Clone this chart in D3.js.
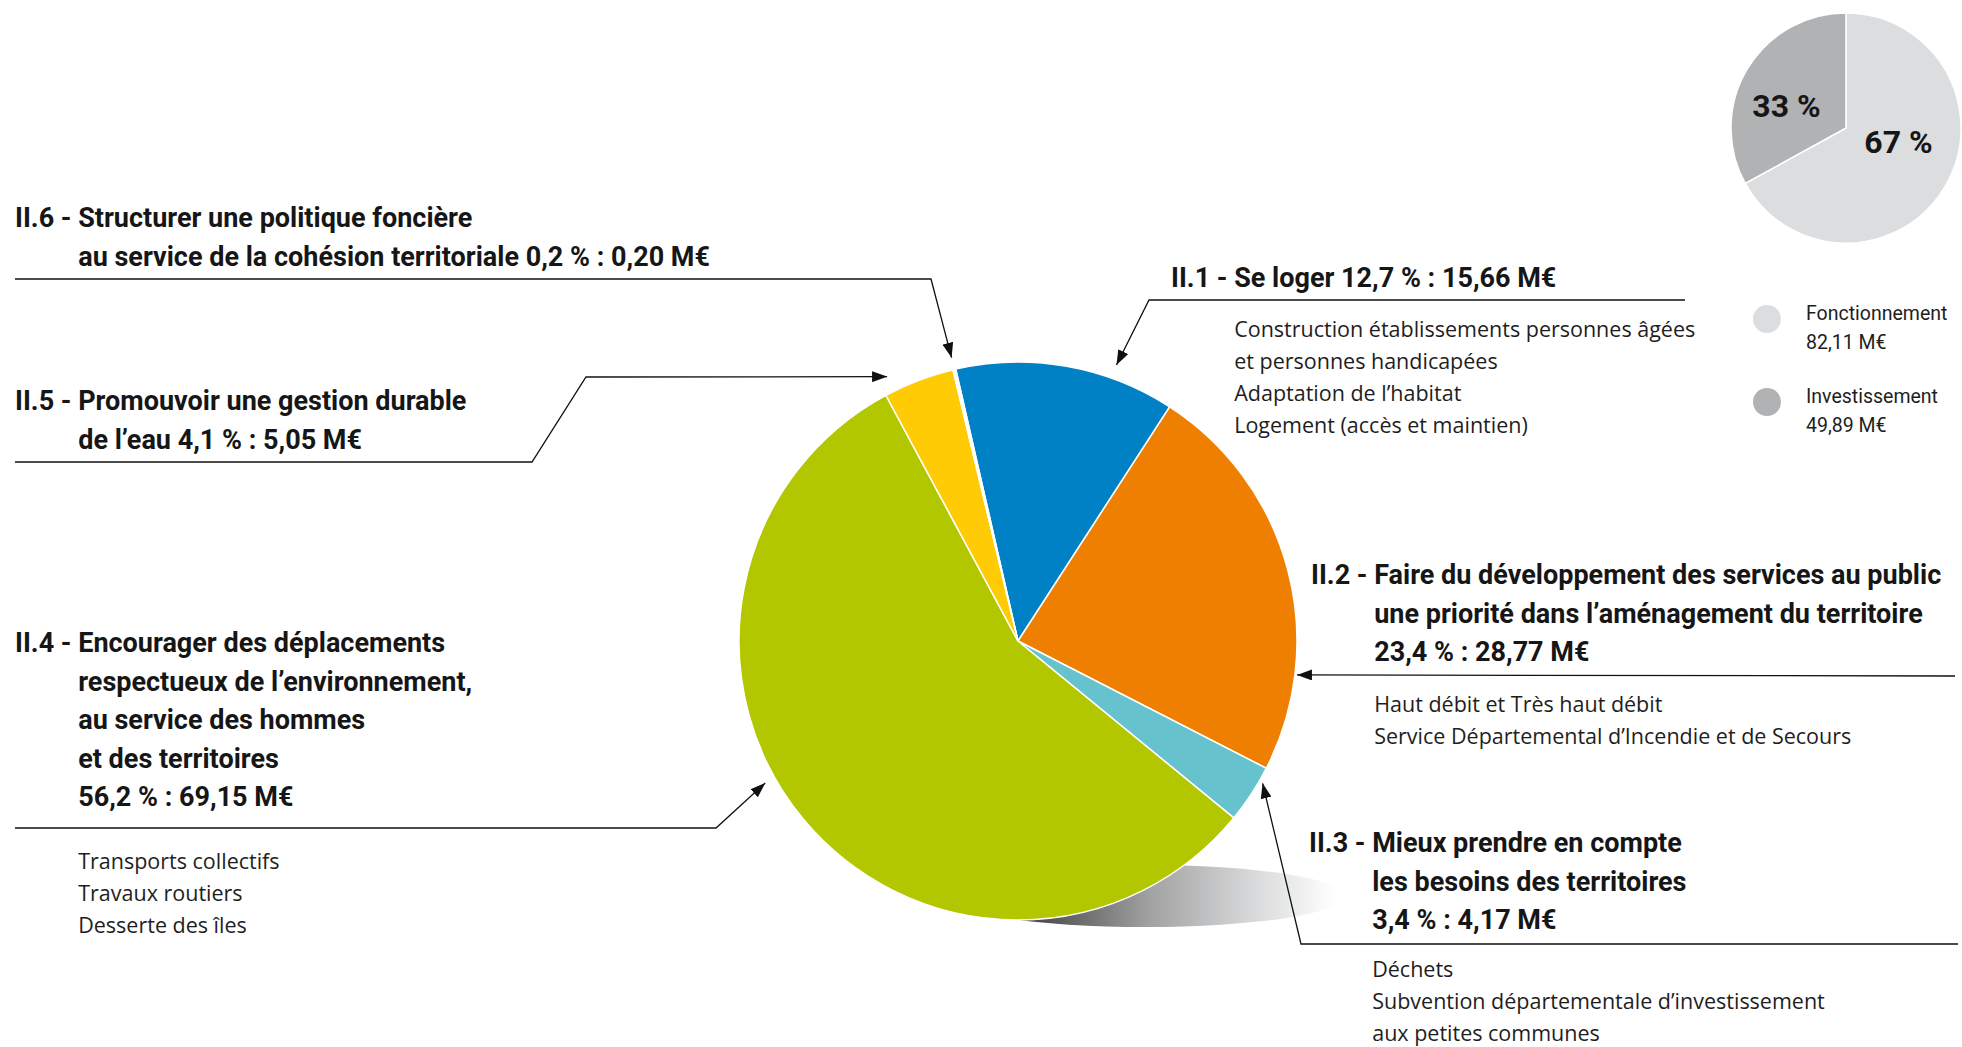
<!DOCTYPE html>
<html>
<head>
<meta charset="utf-8">
<script src="https://cdn.jsdelivr.net/npm/d3@7"></script>
<style>
  html, body { margin: 0; padding: 0; background: #fff; }
  svg { display: block; }
  .bold { font-family: Roboto, "Liberation Sans", sans-serif; font-weight: 700; fill: #161616; }
  .reg { font-family: "Open Sans", "Noto Sans", sans-serif; font-weight: 400; fill: #1e1e1e; }
  .legend { font-family: Roboto, "Liberation Sans", sans-serif; font-weight: 400; fill: #1e1e1e; }
</style>
</head>
<body>
<div id="chart"></div>
<script>
// --- data ---
const categories = ['II.1', 'II.2', 'II.3', 'II.4', 'II.5', 'II.6'];
const shares = [12.7, 23.4, 3.4, 56.2, 4.1, 0.2];
const amounts = [15.66, 28.77, 4.17, 69.15, 5.05, 0.20];
const sliceColors = ['#0080c5', '#ef7f00', '#66c2cd', '#b2c700', '#ffcb04', '#ffffff'];
const titles = [
  ['Se loger'],
  ['Faire du développement des services au public', 'une priorité dans l’aménagement du territoire'],
  ['Mieux prendre en compte', 'les besoins des territoires'],
  ['Encourager des déplacements', 'respectueux de l’environnement,', 'au service des hommes', 'et des territoires'],
  ['Promouvoir une gestion durable', 'de l’eau'],
  ['Structurer une politique foncière', 'au service de la cohésion territoriale']
];
const details = [
  ['Construction établissements personnes âgées', 'et personnes handicapées', 'Adaptation de l’habitat', 'Logement (accès et maintien)'],
  ['Haut débit et Très haut débit', 'Service Départemental d’Incendie et de Secours'],
  ['Déchets', 'Subvention départementale d’investissement', 'aux petites communes'],
  ['Transports collectifs', 'Travaux routiers', 'Desserte des îles'],
  [],
  []
];

const splitLabels = ['Fonctionnement', 'Investissement'];
const splitAmounts = [82.11, 49.89];
const splitShares = [67, 33];
const splitColors = ['#dcdddf', '#b1b2b4'];

// --- layout ---
const width = 1962;
const height = 1047;
const cx = 1018, cy = 641, R = 279;
const startDeg = -12.9;
const titleSize = 27;
const titleLine = 38.5;
const detailLine = 32;

// label placement: text origin, value on same line or not, arrow target inside slice (t) and distance from rim
const layout = {
  'II.1': { x: 1171, y: 287, inline: true, dy: 337, t: 0.71, off: 14, path: [[1685, 300], [1149, 300]] },
  'II.2': { x: 1311, y: 584, inline: false, dy: 712, t: 0.76, off: 2, path: [[1955, 676]] },
  'II.3': { x: 1309, y: 852, inline: false, dy: 977, t: 0.25, off: 4, path: [[1958, 944], [1301, 944]] },
  'II.4': { x: 15, y: 652, inline: false, dy: 869, t: 0.55, off: 11, path: [[15, 828], [716, 828]] },
  'II.5': { x: 15, y: 410, inline: true, dy: 0, t: 0.13, off: 16, path: [[15, 462], [532, 462], [586, 377]] },
  'II.6': { x: 15, y: 227, inline: true, dy: 0, t: 0.5, off: 12, path: [[15, 279], [931, 279]] }
};

const fr = d3.formatLocale({ decimal: ',', thousands: ' ', grouping: [3], currency: ['', ' M€'] });
const f1 = fr.format('.1f');
const f2 = fr.format('.2f');

const svg = d3.select('#chart')
  .append('svg')
  .attr('width', width)
  .attr('height', height);

const defs = svg.append('defs');

defs.append('marker')
  .attr('id', 'arrow')
  .attr('viewBox', '0 0 15 11')
  .attr('refX', 15)
  .attr('refY', 5.5)
  .attr('markerWidth', 15)
  .attr('markerHeight', 11)
  .attr('markerUnits', 'userSpaceOnUse')
  .attr('orient', 'auto')
  .append('path')
  .attr('d', 'M0,0 L15,5.5 L0,11 Z')
  .attr('fill', '#111');

const grad = defs.append('linearGradient')
  .attr('id', 'shadow')
  .attr('gradientUnits', 'userSpaceOnUse')
  .attr('x1', 1030).attr('x2', 1335)
  .attr('y1', 0).attr('y2', 0);
[[0, '#454545'], [0.4, '#a3a3a4'], [0.72, '#d6d7d8'], [1, '#ffffff']].forEach(s => {
  grad.append('stop').attr('offset', s[0]).attr('stop-color', s[1]);
});

// shadow under the pie
svg.append('ellipse')
  .attr('cx', 1145)
  .attr('cy', 896)
  .attr('rx', 200)
  .attr('ry', 31)
  .attr('fill', 'url(#shadow)');

// main pie
const data = categories.map((c, i) => ({ cat: c, share: shares[i], amount: amounts[i], color: sliceColors[i] }));
const toRad = d => d * Math.PI / 180;

const pie = d3.pie()
  .sort(null)
  .value(d => d.amount)
  .startAngle(toRad(startDeg))
  .endAngle(toRad(startDeg + 360));

const arc = d3.arc().innerRadius(0).outerRadius(R);
const arcs = pie(data);

const pieG = svg.append('g').attr('transform', `translate(${cx},${cy})`);
pieG.selectAll('path')
  .data(arcs)
  .enter()
  .append('path')
  .attr('d', arc)
  .attr('fill', d => d.data.color)
  .attr('stroke', '#fff')
  .attr('stroke-width', 1.5);

// leader lines
const line = d3.line();
arcs.forEach(a => {
  const L = layout[a.data.cat];
  const ang = a.startAngle + L.t * (a.endAngle - a.startAngle);
  const rr = R + L.off;
  const tip = [cx + rr * Math.sin(ang), cy - rr * Math.cos(ang)];
  svg.append('path')
    .attr('d', line(L.path.concat([tip])))
    .attr('fill', 'none')
    .attr('stroke', '#111')
    .attr('stroke-width', 1.3)
    .attr('marker-end', 'url(#arrow)');
});

// labels
arcs.forEach((a, i) => {
  const L = layout[a.data.cat];
  const value = `${f1(a.data.share)} % : ${f2(a.data.amount)} M€`;
  const lines = titles[i].slice();
  if (L.inline) lines[lines.length - 1] += ' ' + value;
  else lines.push(value);

  const g = svg.append('g');
  const first = g.append('text')
    .attr('class', 'bold')
    .attr('x', L.x)
    .attr('y', L.y)
    .style('font-size', titleSize + 'px');
  const prefix = first.append('tspan').text(`${a.data.cat} - `);
  first.append('tspan').text(lines[0]);
  const indent = L.x + prefix.node().getComputedTextLength();

  lines.slice(1).forEach((t, j) => {
    g.append('text')
      .attr('class', 'bold')
      .attr('x', indent)
      .attr('y', L.y + (j + 1) * titleLine)
      .style('font-size', titleSize + 'px')
      .text(t);
  });

  details[i].forEach((t, j) => {
    g.append('text')
      .attr('class', 'reg')
      .attr('x', indent)
      .attr('y', L.dy + j * detailLine)
      .style('font-size', '21.5px')
      .text(t);
  });
});

// small pie: fonctionnement / investissement
const sx = 1846, sy = 128, sr = 115;
const splitData = splitLabels.map((l, i) => ({ label: l, share: splitShares[i], amount: splitAmounts[i], color: splitColors[i] }));
const smallPie = d3.pie().sort(null).value(d => d.share);
const smallArc = d3.arc().innerRadius(0).outerRadius(sr);
const smallG = svg.append('g').attr('transform', `translate(${sx},${sy})`);
const smallArcs = smallPie(splitData);

smallG.selectAll('path')
  .data(smallArcs)
  .enter()
  .append('path')
  .attr('d', smallArc)
  .attr('fill', d => d.data.color)
  .attr('stroke', '#fff')
  .attr('stroke-width', 1.5);

const pctOffsets = [[52.5, 25], [-59.5, -11.3]];
smallG.selectAll('text')
  .data(smallArcs)
  .enter()
  .append('text')
  .attr('class', 'bold')
  .attr('x', (d, i) => pctOffsets[i][0])
  .attr('y', (d, i) => pctOffsets[i][1])
  .attr('text-anchor', 'middle')
  .style('font-size', '32px')
  .text(d => `${d.data.share} %`);

// legend
const legend = svg.append('g');
splitData.forEach((d, i) => {
  const y = 319 + i * 83;
  legend.append('circle')
    .attr('cx', 1767)
    .attr('cy', y)
    .attr('r', 14)
    .attr('fill', d.color);
  legend.append('text')
    .attr('class', 'legend')
    .attr('x', 1806)
    .attr('y', y + 1)
    .style('font-size', '19.5px')
    .text(d.label);
  legend.append('text')
    .attr('class', 'legend')
    .attr('x', 1806)
    .attr('y', y + 30)
    .style('font-size', '19.5px')
    .text(f2(d.amount) + ' M€');
});
</script>
</body>
</html>
